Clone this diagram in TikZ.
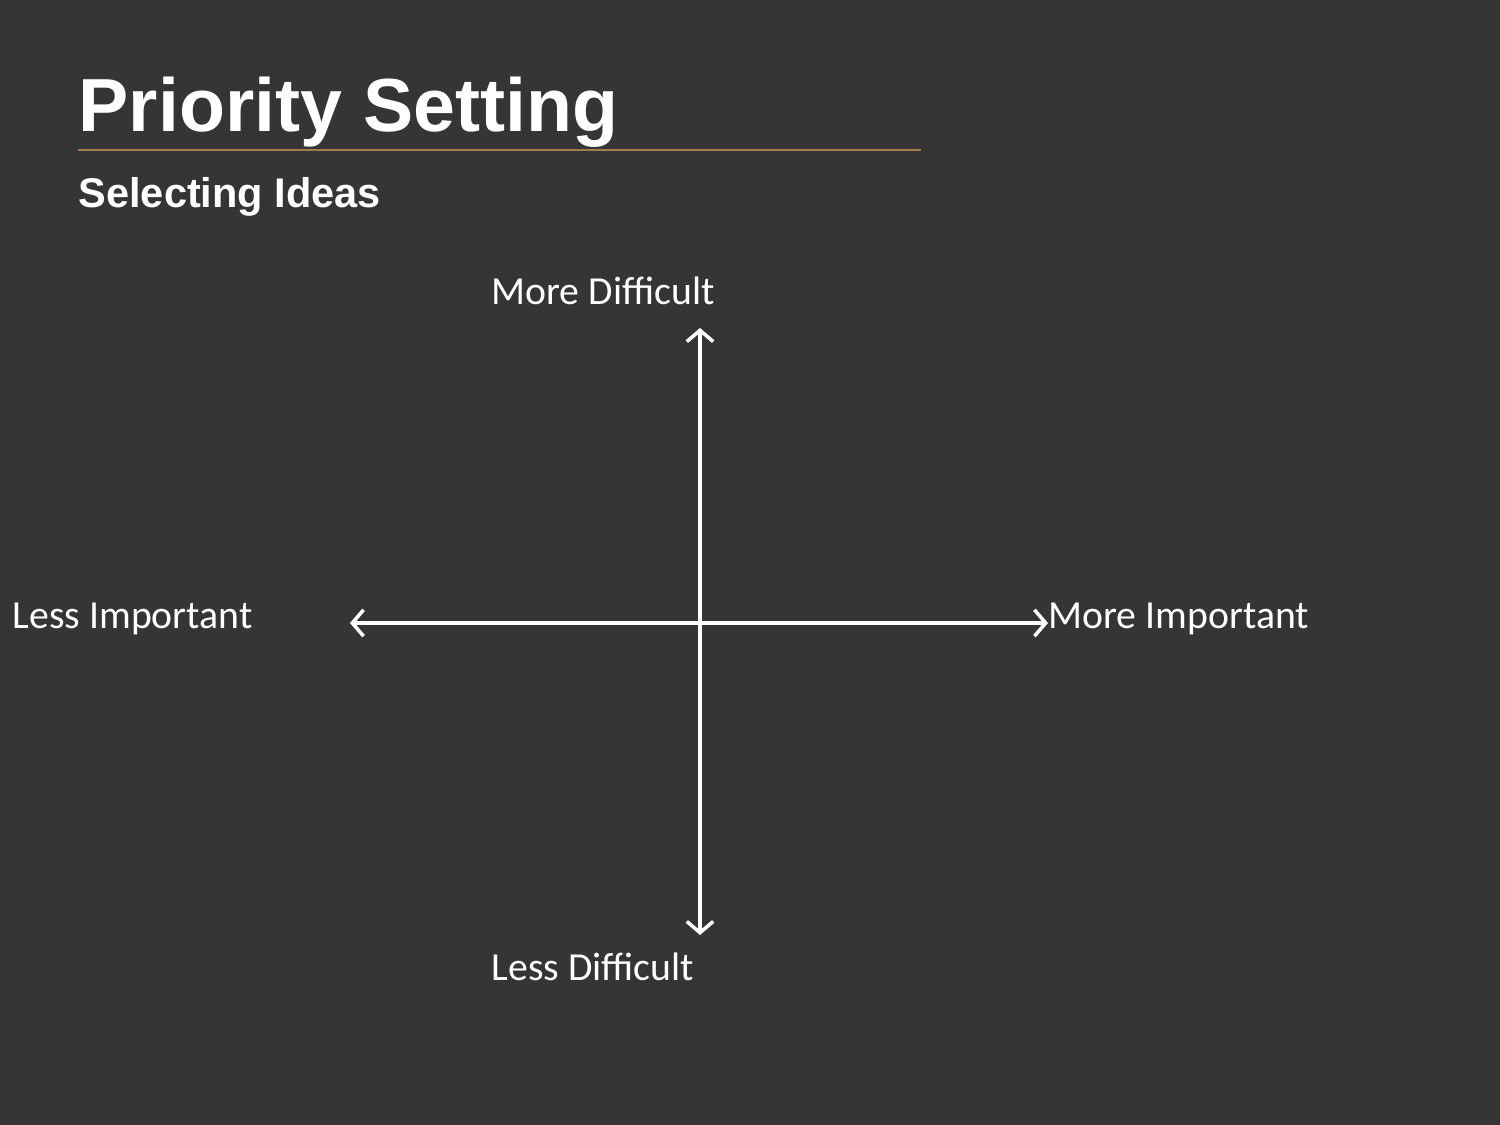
\documentclass[tikz,border=0pt]{standalone}
\usepackage{fontspec}
\setmainfont{Carlito}
\newfontfamily\headfont{Liberation Sans}
\usetikzlibrary{arrows.meta}
\definecolor{slidebg}{RGB}{53,53,53}
\definecolor{ruleline}{RGB}{166,124,70}
\tikzset{
  axis/.style={white,line width=1pt,{Straight Barb[length=3.2pt,width=7.5pt]}-{Straight Barb[length=3.2pt,width=7.5pt]}},
  axislabel/.style={white,anchor=base west,inner sep=0pt,font=\fontsize{11.3pt}{13pt}\selectfont}
}
\begin{document}
\begin{tikzpicture}[x=0.01cm,y=-0.01cm]
\fill[slidebg] (0,0) rectangle (1500,1125);
\useasboundingbox (0,0) rectangle (1500,1125);
% heading
\node[white,anchor=base west,inner sep=0pt,font=\headfont\bfseries\fontsize{21.4pt}{24pt}\selectfont] (title) at (78,132) {Priority Setting};
\draw[ruleline,line width=0.5pt] (78,150) -- (921,150);
\node[white,anchor=base west,inner sep=0pt,font=\headfont\bfseries\fontsize{11.8pt}{14pt}\selectfont] (sub) at (78,208) {Selecting Ideas};
% axis ends
\coordinate (top) at (700,328);
\coordinate (bot) at (700,935);
\coordinate (left) at (350,623);
\coordinate (right) at (1048,623);
\draw[axis] (bot) -- (top);
\draw[axis] (left) -- (right);
% labels
\node[axislabel] (mdiff) at (491,305) {More Difficult};
\node[axislabel] (ldiff) at (491,980) {Less Difficult};
\node[axislabel] (limp) at (12,629) {Less Important};
\node[axislabel] (mimp) at (1048,629) {More Important};
\end{tikzpicture}
\end{document}
